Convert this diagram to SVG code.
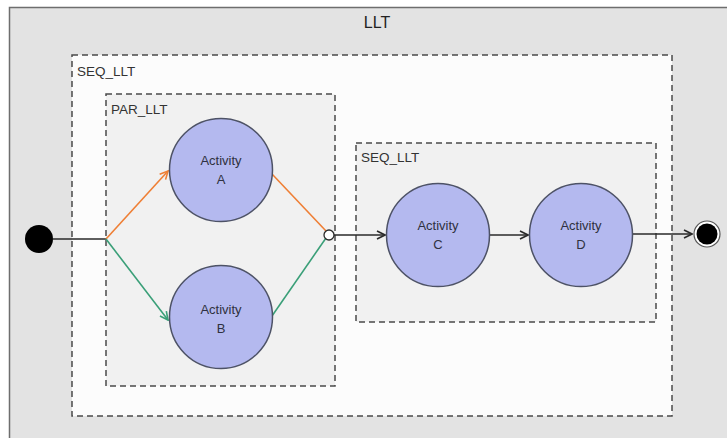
<svg xmlns="http://www.w3.org/2000/svg" width="727" height="438" viewBox="0 0 727 438">
  <defs>
    <style>
      .box { stroke: #4a4a4a; stroke-width: 1.5; stroke-dasharray: 6 4; }
      .lbl { font-family: "Liberation Sans", Arial, sans-serif; font-size: 13.5px; fill: #333; }
      .act { fill: #b4b9ef; stroke: #4d5266; stroke-width: 1.5; }
      .atxt { font-family: "Liberation Sans", Arial, sans-serif; font-size: 13px; fill: #2f3140; text-anchor: middle; }
      .edge { fill: none; stroke-width: 1.6; }
    </style>
    <marker id="arrK" viewBox="0 0 10 10" refX="9" refY="5" markerWidth="10" markerHeight="10" markerUnits="userSpaceOnUse" orient="auto">
      <path d="M1,1 L9,5 L1,9" fill="none" stroke="#2a2a2a" stroke-width="1.6"/>
    </marker>
    <marker id="arrO" viewBox="0 0 10 10" refX="9" refY="5" markerWidth="10" markerHeight="10" markerUnits="userSpaceOnUse" orient="auto">
      <path d="M1,1 L9,5 L1,9" fill="none" stroke="#ef7f35" stroke-width="1.6"/>
    </marker>
    <marker id="arrG" viewBox="0 0 10 10" refX="9" refY="5" markerWidth="10" markerHeight="10" markerUnits="userSpaceOnUse" orient="auto">
      <path d="M1,1 L9,5 L1,9" fill="none" stroke="#3a9f78" stroke-width="1.6"/>
    </marker>
  </defs>

  <rect x="0" y="0" width="727" height="438" fill="#ffffff"/>

  <g id="llt">
    <rect x="9.5" y="7.5" width="730" height="440" fill="#e3e3e3" stroke="#6e6e6e" stroke-width="1.5"/>
    <text x="377" y="28" font-family="Liberation Sans, Arial, sans-serif" font-size="16" fill="#222" text-anchor="middle">LLT</text>
  </g>

  <g id="seq_llt_outer">
    <rect class="box" x="72" y="55" width="600" height="361" fill="#fcfcfc"/>
    <text class="lbl" x="77" y="76">SEQ_LLT</text>
  </g>

  <g id="par_llt">
    <rect class="box" x="106" y="94" width="229" height="292" fill="#f1f1f1"/>
    <text class="lbl" x="111" y="114">PAR_LLT</text>
  </g>

  <g id="seq_llt_inner">
    <rect class="box" x="356" y="143" width="300" height="179" fill="#f1f1f1"/>
    <text class="lbl" x="361" y="162">SEQ_LLT</text>
  </g>

  <g id="connectors">
    <line class="edge" x1="53" y1="239" x2="106" y2="239" stroke="#2a2a2a"/>
    <line class="edge" x1="106" y1="239" x2="168" y2="171" stroke="#ef7f35" marker-end="url(#arrO)"/>
    <line class="edge" x1="106" y1="239" x2="168" y2="320" stroke="#3a9f78" marker-end="url(#arrG)"/>
    <line class="edge" x1="272" y1="174" x2="326" y2="231" stroke="#ef7f35"/>
    <line class="edge" x1="272" y1="316" x2="326" y2="238" stroke="#3a9f78"/>
    <line class="edge" x1="334" y1="235" x2="385" y2="235" stroke="#2a2a2a" marker-end="url(#arrK)"/>
    <line class="edge" x1="490" y1="235" x2="528" y2="235" stroke="#2a2a2a" marker-end="url(#arrK)"/>
    <line class="edge" x1="633" y1="234" x2="692" y2="234" stroke="#2a2a2a" marker-end="url(#arrK)"/>
  </g>

  <g id="start">
    <circle cx="39" cy="239" r="14" fill="#000"/>
  </g>

  <g id="join">
    <circle cx="329" cy="235" r="5" fill="#ffffff" stroke="#2a2a2a" stroke-width="1.3"/>
  </g>

  <g id="activityA">
    <circle class="act" cx="221" cy="170" r="51.5"/>
    <text class="atxt" x="221" y="165">Activity</text>
    <text class="atxt" x="221" y="184">A</text>
  </g>

  <g id="activityB">
    <circle class="act" cx="221" cy="317" r="51.5"/>
    <text class="atxt" x="221" y="314">Activity</text>
    <text class="atxt" x="221" y="333">B</text>
  </g>

  <g id="activityC">
    <circle class="act" cx="438" cy="235" r="51.5"/>
    <text class="atxt" x="438" y="230">Activity</text>
    <text class="atxt" x="438" y="249">C</text>
  </g>

  <g id="activityD">
    <circle class="act" cx="581" cy="235" r="51.5"/>
    <text class="atxt" x="581" y="230">Activity</text>
    <text class="atxt" x="581" y="249">D</text>
  </g>

  <g id="end">
    <circle cx="707" cy="234" r="13" fill="#ffffff" stroke="#555" stroke-width="1.2"/>
    <circle cx="707" cy="234" r="10.5" fill="#000"/>
  </g>
</svg>
